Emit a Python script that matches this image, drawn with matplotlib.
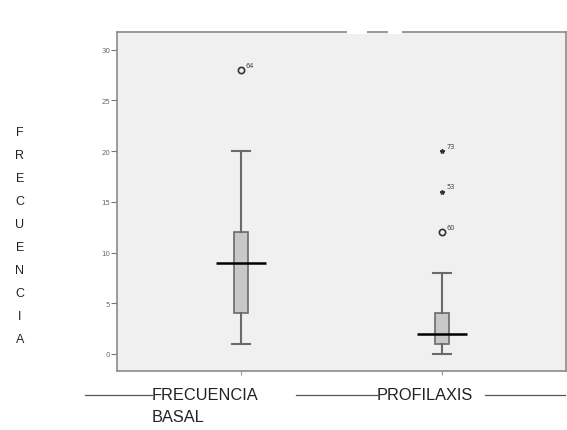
import matplotlib
matplotlib.use("Agg")
import matplotlib.pyplot as plt
from matplotlib.lines import Line2D
from matplotlib.patches import Rectangle

categories = ["FRECUENCIA\nBASAL", "PROFILAXIS"]
q1 = [4, 1]
median = [9, 2]
q3 = [12, 4]
whislo = [1, 0]
whishi = [20, 8]
outlier_vals = [[28], [12, 16, 20]]
outlier_ids = [["64"], ["60", "53", "73"]]
outlier_kind = [["o"], ["o", "*", "*"]]
yticks = [0, 5, 10, 15, 20, 25, 30]
ylabel_letters = list("FRECUENCIA")

fig = plt.figure(figsize=(5.67, 4.31), dpi=100)
fig.patch.set_facecolor("white")
ax = fig.add_axes([117/567, 1-372/431, (566-117)/567, (372-33)/431])
ax.set_facecolor("#f0f0f0")

stats = []
for i in range(2):
    stats.append(dict(med=median[i], q1=q1[i], q3=q3[i], whislo=whislo[i],
                      whishi=whishi[i], fliers=[], label=""))
positions = [1, 2]
bp = ax.bxp(stats, positions=positions, widths=0.07, patch_artist=True,
            showfliers=False,
            boxprops=dict(facecolor="#c8c8c8", edgecolor="#6a6a6a", linewidth=1.2),
            whiskerprops=dict(color="#6a6a6a", linewidth=1.5),
            capprops=dict(color="#6a6a6a", linewidth=1.5),
            medianprops=dict(color="black", linewidth=0))
for i, p in enumerate(positions):
    ax.plot([p-0.125, p+0.125], [median[i]]*2, color="black", lw=1.8, zorder=5,
            solid_capstyle="butt")
for cap in bp["caps"]:
    x = cap.get_xdata()
    c = (x[0]+x[1])/2
    cap.set_xdata([c-0.045, c+0.045])

for i, p in enumerate(positions):
    for v, lab, k in zip(outlier_vals[i], outlier_ids[i], outlier_kind[i]):
        if k == "o":
            ax.plot(p, v, marker="o", ms=4.5, mfc="none", mec="#333333", mew=1.2, zorder=6)
        else:
            ax.plot(p, v, marker="*", ms=3.2, mfc="#333333", mec="#333333", zorder=6)
        ax.annotate(lab, (p, v), xytext=(3, 2.5), textcoords="offset points",
                    fontsize=4.8, color="#444444")

ax.set_xlim(0.383, 2.617)
ax.set_ylim(-1.68, 31.75)
ax.set_yticks(yticks)
ax.set_yticklabels([str(t) for t in yticks], fontsize=5, color="#666666")
ax.tick_params(axis="y", length=4, width=0.8, color="#777777", pad=1)
ax.set_xticks(positions)
ax.set_xticklabels(["", ""])
ax.tick_params(axis="x", length=3, width=0.8, color="#999999")
for s in ax.spines.values():
    s.set_color("#8a8a8a")
    s.set_linewidth(1.2)

for x0, x1 in [(347, 367), (388, 402)]:
    fig.patches.append(Rectangle((x0/567, 1-35/431), (x1-x0)/567, 4/431,
                                 transform=fig.transFigure, facecolor="white",
                                 edgecolor="none", zorder=10))

def hline(x0, x1, y):
    fig.add_artist(Line2D([x0/567, x1/567], [1-y/431]*2, color="#555555", lw=0.9))

lab_fs = 11.8
hline(85, 152, 396)
fig.text(152/567, 1-396/431, "FRECUENCIA", fontsize=lab_fs, va="center", ha="left",
         color="#222222", family="Liberation Sans")
fig.text(152/567, 1-418/431, "BASAL", fontsize=lab_fs, va="center", ha="left",
         color="#222222", family="Liberation Sans")
hline(296, 377, 396)
fig.text(377/567, 1-396/431, "PROFILAXIS", fontsize=lab_fs, va="center", ha="left",
         color="#222222", family="Liberation Sans")
hline(485, 565, 396)

for j, ch in enumerate(ylabel_letters):
    fig.text(20/567, 1-(133+23*j)/431, ch, fontsize=9, ha="center", va="center",
             color="#222222", family="Liberation Sans")

fig.savefig("out.png", dpi=100, facecolor="white")
